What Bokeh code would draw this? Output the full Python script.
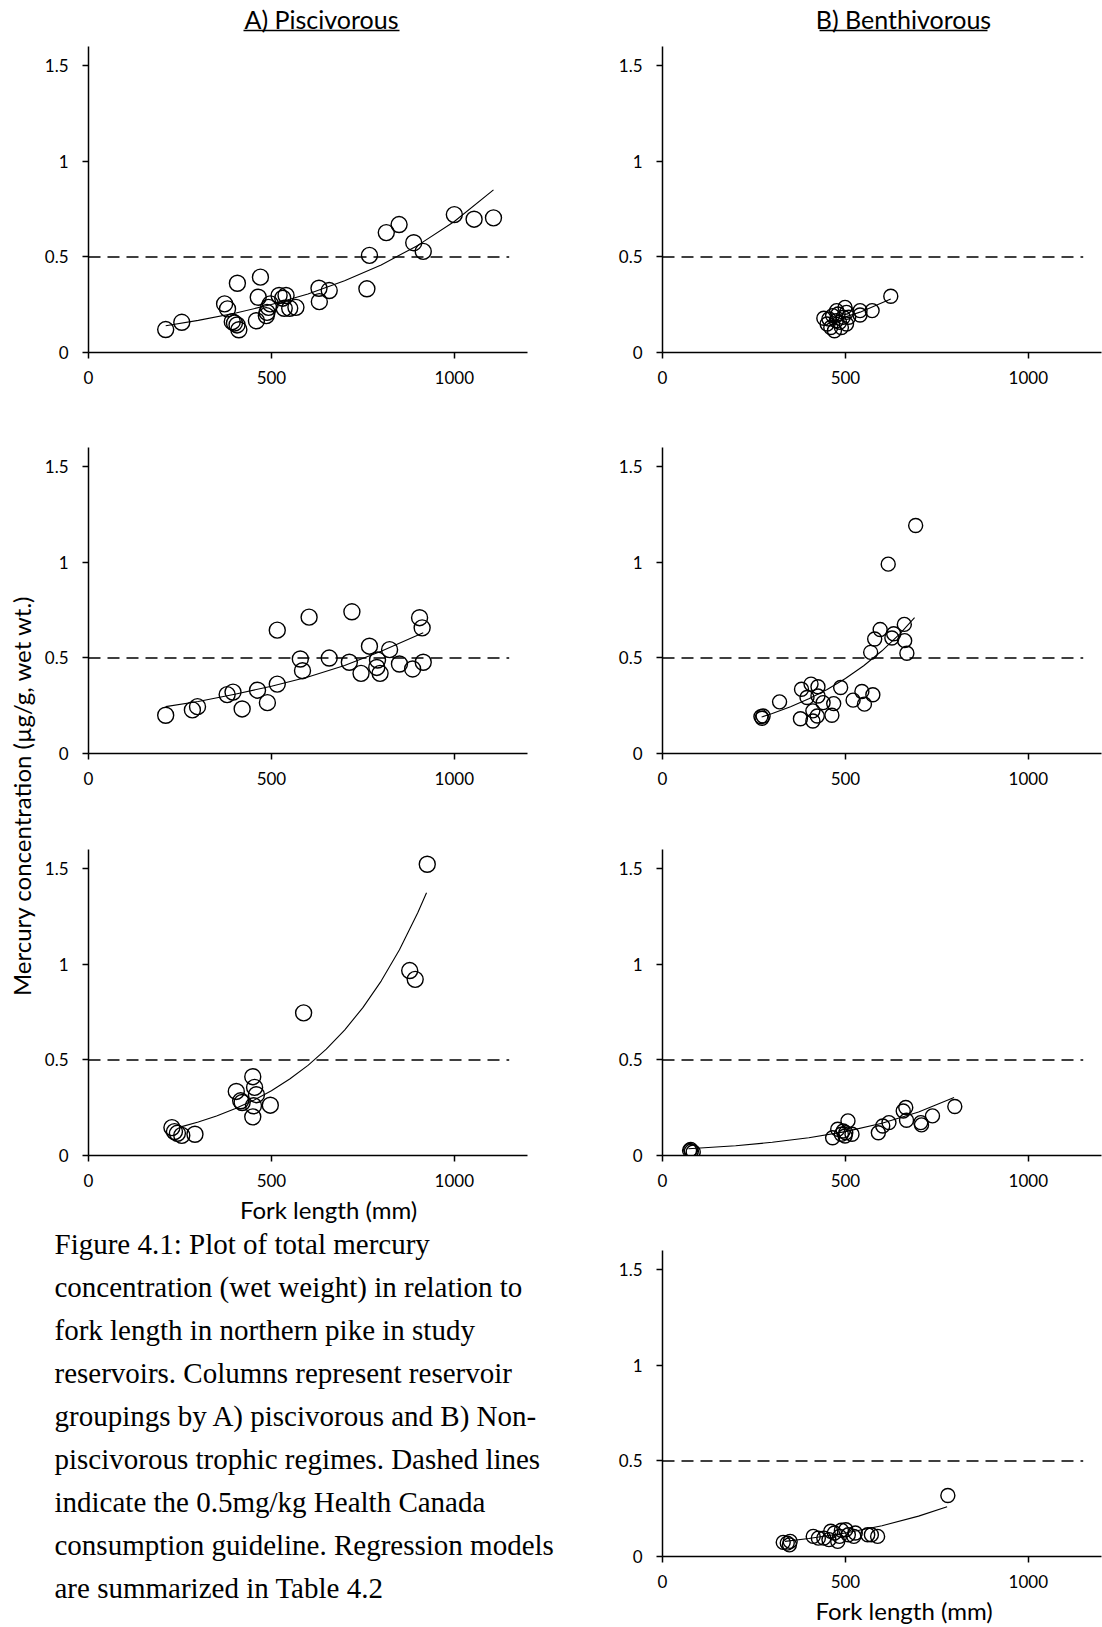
import math
from bokeh.plotting import figure
from bokeh.layouts import row, column
from bokeh.models import Range1d, FixedTicker
from bokeh.core.properties import value
from bokeh.embed import file_html
from bokeh.resources import INLINE

# ---------------- texts / ticks ----------------
col_titles = ["A) Piscivorous", "B) Benthivorous"]
y_axis_title = "Mercury concentration (µg/g, wet wt.)"
x_axis_title = "Fork length (mm)"
x_ticks = [0, 500, 1000]
x_tick_labels = ["0", "500", "1000"]
y_ticks = [0, 0.5, 1, 1.5]
y_tick_labels = ["0", "0.5", "1", "1.5"]
guideline = 0.5
guide_x = [0, 1150]
caption_lines = [
    "Figure 4.1: Plot of total mercury",
    "concentration (wet weight) in relation to",
    "fork length in northern pike in study",
    "reservoirs. Columns represent reservoir",
    "groupings by A) piscivorous and B) Non-",
    "piscivorous trophic regimes. Dashed lines",
    "indicate the 0.5mg/kg Health Canada",
    "consumption guideline. Regression models",
    "are summarized in Table 4.2",
]

# ---------------- data ----------------
A1_x = [211, 255, 372, 380, 407, 393, 399, 406, 411, 470, 464, 459, 488, 492, 497, 486, 521, 531,
        540, 535, 550, 567, 630, 631, 658, 761, 768, 814, 849, 889, 915, 1000, 1054, 1107]
A1_y = [0.12, 0.158, 0.254, 0.228, 0.362, 0.161, 0.154, 0.144, 0.119, 0.394, 0.289, 0.166, 0.21, 0.236,
        0.254, 0.193, 0.298, 0.284, 0.298, 0.231, 0.231, 0.236, 0.336, 0.266, 0.324, 0.333, 0.508,
        0.627, 0.669, 0.574, 0.529, 0.721, 0.697, 0.704]
A1_fit_x = [211, 300, 400, 500, 600, 700, 800, 900, 1000, 1107]
A1_fit_y = [0.14, 0.168, 0.205, 0.251, 0.306, 0.375, 0.458, 0.56, 0.685, 0.85]

A2_x = [211, 284, 298, 379, 395, 420, 462, 489, 516, 516, 579, 585, 603, 658, 713, 720, 745, 768,
        790, 788, 797, 823, 850, 886, 905, 912, 915]
A2_y = [0.2, 0.228, 0.245, 0.308, 0.321, 0.233, 0.331, 0.266, 0.645, 0.363, 0.494, 0.433, 0.713,
        0.499, 0.477, 0.741, 0.419, 0.561, 0.489, 0.45, 0.419, 0.543, 0.468, 0.442, 0.71, 0.657, 0.477]
A2_fit_x = [211, 300, 400, 500, 600, 700, 800, 915]
A2_fit_y = [0.245, 0.272, 0.31, 0.352, 0.4, 0.46, 0.535, 0.632]

A3_x = [228, 235, 243, 255, 291, 404, 416, 420, 449, 454, 459, 451, 449, 497, 588, 878, 893, 926]
A3_y = [0.146, 0.125, 0.116, 0.105, 0.111, 0.335, 0.286, 0.277, 0.412, 0.356, 0.318, 0.26, 0.202,
        0.263, 0.746, 0.967, 0.921, 1.523]
A3_fit_x = [255, 300, 350, 400, 450, 500, 550, 600, 650, 700, 750, 800, 850, 900, 924]
A3_fit_y = [0.151, 0.175, 0.207, 0.244, 0.287, 0.339, 0.4, 0.471, 0.556, 0.656, 0.773, 0.912, 1.076,
            1.269, 1.374]

B1_x = [441, 450, 455, 460, 465, 470, 475, 476, 480, 484, 489, 494, 499, 503, 503, 509, 540, 540, 573, 624]
B1_y = [0.179, 0.149, 0.175, 0.131, 0.193, 0.114, 0.166, 0.219, 0.201, 0.158, 0.131, 0.184, 0.236,
        0.21, 0.149, 0.184, 0.219, 0.196, 0.219, 0.294]
B1_fit_x = [455, 540, 624]
B1_fit_y = [0.158, 0.211, 0.28]

B2_x = [269, 275, 272, 320, 380, 406, 425, 395, 425, 439, 411, 423, 411, 377, 463, 468, 487, 521,
        545, 552, 575, 569, 580, 595, 617, 627, 632, 661, 662, 668, 692]
B2_y = [0.193, 0.196, 0.184, 0.27, 0.336, 0.363, 0.349, 0.293, 0.301, 0.266, 0.223, 0.196, 0.17,
        0.182, 0.2, 0.261, 0.345, 0.279, 0.324, 0.258, 0.307, 0.529, 0.599, 0.648, 0.99, 0.604,
        0.626, 0.675, 0.59, 0.524, 1.192]
B2_fit_x = [271, 300, 350, 400, 450, 500, 550, 600, 650, 689]
B2_fit_y = [0.191, 0.209, 0.245, 0.286, 0.335, 0.392, 0.459, 0.537, 0.628, 0.71]

B3_x = [74, 79, 77, 84, 465, 479, 489, 494, 499, 507, 501, 518, 590, 602, 619, 658, 665, 667, 706,
        708, 738, 799]
B3_y = [0.026, 0.023, 0.032, 0.018, 0.093, 0.137, 0.111, 0.128, 0.102, 0.181, 0.119, 0.111, 0.119,
        0.154, 0.172, 0.233, 0.251, 0.184, 0.172, 0.16, 0.207, 0.256]
B3_fit_x = [71, 200, 300, 400, 500, 600, 700, 797]
B3_fit_y = [0.035, 0.051, 0.069, 0.093, 0.125, 0.169, 0.227, 0.303]

B4_x = [330, 341, 347, 349, 412, 426, 441, 455, 460, 470, 479, 484, 489, 501, 508, 523, 527, 561,
        571, 588, 780]
B4_y = [0.074, 0.07, 0.061, 0.079, 0.105, 0.096, 0.096, 0.088, 0.132, 0.123, 0.079, 0.105, 0.137,
        0.14, 0.114, 0.105, 0.123, 0.114, 0.114, 0.105, 0.319]
B4_fit_x = [335, 400, 500, 600, 700, 778]
B4_fit_y = [0.079, 0.094, 0.123, 0.161, 0.211, 0.26]

FONT = "Lato"


def no_align(p):
    if "frame_align" in p.properties():
        p.frame_align = False
    return p


def blank(width, height):
    p = figure(width=width, height=height, x_range=Range1d(0, width), y_range=Range1d(0, height),
               output_backend="svg", toolbar_location=None, min_border=0)
    p.axis.visible = False
    p.grid.visible = False
    p.outline_line_color = None
    return no_align(p)


def panel(xs, ys, fx, fy, width, height, left, right, top, bottom, msize):
    p = figure(width=width, height=height, x_range=Range1d(0, 1200), y_range=Range1d(0, 1.6),
               output_backend="svg", toolbar_location=None,
               min_border_left=left, min_border_right=right,
               min_border_top=top, min_border_bottom=bottom)
    no_align(p)
    p.outline_line_color = None
    p.grid.visible = False
    for ax in (p.xaxis[0], p.yaxis[0]):
        ax.axis_line_color = "black"
        ax.axis_line_width = 1.5
        ax.major_tick_line_color = "black"
        ax.major_tick_line_width = 1.5
        ax.major_tick_out = 6
        ax.major_tick_in = 0
        ax.minor_tick_line_color = None
        ax.major_label_text_font = FONT
        ax.major_label_text_font_size = "17px"
        ax.major_label_text_color = "black"
    p.xaxis.ticker = FixedTicker(ticks=x_ticks)
    p.xaxis.major_label_overrides = dict(zip(x_ticks, x_tick_labels))
    p.xaxis.major_label_standoff = 12
    p.yaxis.ticker = FixedTicker(ticks=y_ticks)
    p.yaxis.major_label_overrides = dict(zip(y_ticks, y_tick_labels))
    p.yaxis.major_label_standoff = 14
    p.line(guide_x, [guideline] * len(guide_x), line_color="black", line_width=1.5, line_dash="12 7")
    p.line(fx, fy, line_color="black", line_width=1.1)
    p.scatter(xs, ys, marker="circle", size=msize, fill_color=None, line_color="black", line_width=1.4)
    return p


# header with column titles (underlined)
header = blank(1102, 40)
header.text(x=[321, 903], y=[22, 22], text=col_titles, text_font=value(FONT),
            text_font_size=value("25px"), text_align="center", text_baseline="middle", text_color="black")
header.segment(x0=[243, 819], y0=[10, 10], x1=[399, 987], y1=[10, 10], line_color="black", line_width=1.5)

# left strip with y-axis title
strip = blank(40, 1587)
strip.text(x=[21], y=[832], text=[y_axis_title], angle=math.pi / 2, text_font=value(FONT),
           text_font_size=value("24px"), text_align="center", text_baseline="middle", text_color="black")

# column A (page x 40 -> 571)
A1 = panel(A1_x, A1_y, A1_fit_x, A1_fit_y, 531, 361, 48, 44, 6, 49, 16)
A2 = panel(A2_x, A2_y, A2_fit_x, A2_fit_y, 531, 401, 48, 44, 46, 49, 16)
A3 = panel(A3_x, A3_y, A3_fit_x, A3_fit_y, 531, 393, 48, 44, 47, 40, 16)

cap = blank(531, 432)
cap.text(x=[288], y=[418], text=[x_axis_title], text_font=value(FONT), text_font_size=value("24px"),
         text_align="center", text_baseline="middle", text_color="black")
cap.text(x=[14] * len(caption_lines), y=[384 - 43 * i for i in range(len(caption_lines))],
         text=caption_lines, text_font=value("Liberation Serif"), text_font_size=value("29px"),
         text_align="left", text_baseline="middle", text_color="black")

# column B (page x 571 -> 1102)
B1 = panel(B1_x, B1_y, B1_fit_x, B1_fit_y, 531, 361, 91, 1, 6, 49, 14)
B2 = panel(B2_x, B2_y, B2_fit_x, B2_fit_y, 531, 401, 91, 1, 46, 49, 14)
B3 = panel(B3_x, B3_y, B3_fit_x, B3_fit_y, 531, 401, 91, 1, 47, 48, 14)
B4 = panel(B4_x, B4_y, B4_fit_x, B4_fit_y, 531, 393, 91, 1, 47, 40, 14)
foot = blank(531, 31)
foot.text(x=[332.5], y=[17], text=[x_axis_title], text_font=value(FONT), text_font_size=value("24px"),
          text_align="center", text_baseline="middle", text_color="black")

colA = column(A1, A2, A3, cap, spacing=0)
colB = column(B1, B2, B3, B4, foot, spacing=0)
body = row(strip, colA, colB, spacing=0)
layout = column(header, body, spacing=0)

open("out.html", "w").write(file_html(layout, INLINE))
